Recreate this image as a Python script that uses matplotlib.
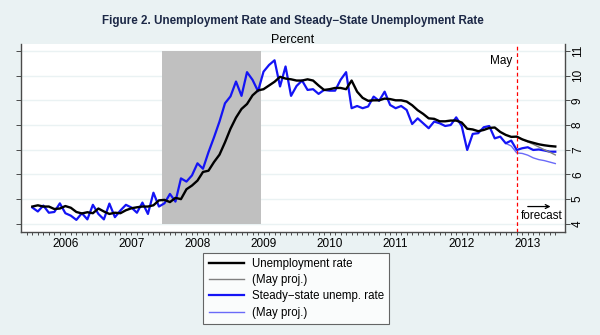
import numpy as np
import matplotlib
matplotlib.use("Agg")
import matplotlib.pyplot as plt
from matplotlib.ticker import FixedLocator, NullFormatter

plt.rcParams['font.family'] = ['Liberation Sans', 'DejaVu Sans']

# ---------------- data (monthly, Jan 2006 - Dec 2013) ----------------
start_year = 2006
unemployment = [
    4.70, 4.75, 4.70, 4.70, 4.60, 4.62, 4.72, 4.65, 4.48, 4.42, 4.47, 4.43,   # 2006
    4.62, 4.50, 4.40, 4.45, 4.43, 4.55, 4.63, 4.67, 4.70, 4.70, 4.75, 4.95,   # 2007
    4.97, 4.88, 5.05, 5.00, 5.40, 5.55, 5.75, 6.10, 6.15, 6.50, 6.80, 7.30,   # 2008
    7.85, 8.30, 8.65, 8.85, 9.20, 9.40, 9.45, 9.60, 9.75, 9.95, 9.88, 9.85,   # 2009
    9.80, 9.80, 9.85, 9.80, 9.60, 9.42, 9.45, 9.50, 9.50, 9.45, 9.80, 9.35,   # 2010
    9.10, 8.98, 9.00, 9.00, 9.07, 9.05, 9.00, 9.00, 8.95, 8.80, 8.60, 8.45,   # 2011
    8.27, 8.25, 8.15, 8.15, 8.18, 8.18, 8.10, 7.85, 7.82, 7.75, 7.80, 7.88,   # 2012
    7.90, 7.72, 7.60, 7.52, 7.53, 7.42, 7.34, 7.28, 7.22, 7.18, 7.15, 7.13,   # 2013
]
steady_state = [
    4.66, 4.50, 4.74, 4.45, 4.48, 4.83, 4.43, 4.33, 4.16, 4.43, 4.18, 4.77,   # 2006
    4.40, 4.18, 4.82, 4.27, 4.54, 4.77, 4.66, 4.45, 4.86, 4.40, 5.26, 4.70,   # 2007
    4.83, 5.21, 4.90, 5.84, 5.71, 5.96, 6.45, 6.23, 6.90, 7.50, 8.14, 8.88,   # 2008
    9.16, 9.76, 9.18, 10.14, 9.83, 9.37, 10.16, 10.43, 10.62, 9.56, 10.37, 9.18,  # 2009
    9.58, 9.80, 9.42, 9.45, 9.26, 9.42, 9.39, 9.39, 9.83, 10.14, 8.68, 8.77,  # 2010
    8.68, 8.75, 9.15, 8.98, 9.35, 8.81, 8.68, 8.77, 8.61, 8.04, 8.27, 8.07,   # 2011
    7.87, 8.14, 8.07, 7.96, 8.00, 8.31, 7.96, 6.99, 7.64, 7.67, 7.91, 7.96,   # 2012
    7.46, 7.53, 7.26, 7.37, 6.99, 7.06, 7.10, 6.99, 7.01, 6.97, 6.92, 6.92,   # 2013
]
# May projections
unemp_may_start = (2013, 5)
unemp_may_proj = [7.53, 7.42, 7.32, 7.22, 7.11, 7.00, 6.90, 6.79]
ss_may_start = (2013, 3)
ss_may_proj = [7.26, 7.15, 6.87, 6.85, 6.78, 6.67, 6.60, 6.56, 6.50, 6.44]

recession = ((2007, 12), (2009, 6))
forecast_month = (2013, 5)
year_labels = [2006, 2007, 2008, 2009, 2010, 2011, 2012, 2013]
y_ticks = [4, 5, 6, 7, 8, 9, 10, 11]

title = "Figure 2. Unemployment Rate and Steady\u2212State Unemployment Rate"
subtitle = "Percent"
legend_labels = ["Unemployment rate", "(May proj.)",
                 "Steady\u2212state unemp. rate", "(May proj.)"]


def ym(y, m):
    return y + (m - 1) / 12.0


t_all = np.array([ym(start_year, 1) + k / 12.0 for k in range(len(unemployment))])
t_up = np.array([ym(*unemp_may_start) + k / 12.0 for k in range(len(unemp_may_proj))])
t_sp = np.array([ym(*ss_may_start) + k / 12.0 for k in range(len(ss_may_proj))])

BG = '#EAF2F3'
fig = plt.figure(figsize=(6, 3.35), dpi=100, facecolor=BG)
ax = fig.add_axes([0.0345, 0.3075, 0.9072, 0.5612])
ax.set_facecolor('white')

xmin, xmax = 2005.824, 2014.064
ax.set_xlim(xmin, xmax)
ax.set_ylim(3.67, 11.28)

# grid
for yv in y_ticks:
    ax.axhline(yv, color=BG, lw=1.0, zorder=0)

# recession shading
r0 = ym(*recession[0]) + 0.5 / 12
r1 = ym(*recession[1]) + 0.5 / 12
ax.fill_between([r0, r1], 4, 11, color='#C0C0C0', lw=0, zorder=1)

# lines
l1, = ax.plot(t_all, unemployment, color='black', lw=1.7, zorder=5)
l2, = ax.plot(t_up, unemp_may_proj, color='#808080', lw=1.0, zorder=4)
l3, = ax.plot(t_all, steady_state, color='#1414F5', lw=1.6, zorder=3)
l4, = ax.plot(t_sp, ss_may_proj, color='#6A6AF8', lw=1.0, zorder=2)

# forecast line
fx = ym(*forecast_month) + 0.01
ax.axvline(fx, color='#FF0000', lw=0.9, ls=(0, (3, 2.2)), zorder=6)
ax.annotate("May", xy=(fx, 10.61), xytext=(-4, 0), textcoords='offset points',
            ha='right', va='center', fontsize=8.5)
ax.text(2013.716, 4.33, "forecast", ha='center', va='center', fontsize=8.5)
ax.annotate("", xy=(2013.845, 4.70), xytext=(2013.50, 4.70),
            arrowprops=dict(arrowstyle='->', color='black', lw=0.9,
                            mutation_scale=7, shrinkA=0, shrinkB=0))

# axes styling
for s in ['left', 'right', 'bottom']:
    ax.spines[s].set_color('#4a4a4a')
    ax.spines[s].set_linewidth(1.0)
ax.spines['top'].set_visible(False)

ax.xaxis.set_major_locator(FixedLocator([y + 0.5 for y in year_labels]))
ax.set_xticklabels([str(y) for y in year_labels])
ax.xaxis.set_minor_locator(FixedLocator([ym(2005, 12) + k / 12.0 for k in range(97)]))
ax.xaxis.set_minor_formatter(NullFormatter())
ax.tick_params(axis='x', which='both', direction='out', length=2.5, width=0.7,
               color='#4a4a4a', labelsize=8.5, pad=2)

ax.set_yticks(y_ticks)
ax.set_yticklabels([str(v) for v in y_ticks])
ax.tick_params(axis='y', left=True, right=True, labelleft=False, labelright=True,
               direction='out', length=3.5, width=0.7, color='#4a4a4a',
               labelsize=8.5, pad=1.5)
for lab in ax.get_yticklabels(which='both'):
    lab.set_rotation(90)
    lab.set_va('center')
    lab.set_ha('left')

# titles
fig.text(0.4875, 0.937, title, ha='center', va='center', fontsize=8.4,
         fontweight='bold', color='#1c2846')
fig.text(0.4875, 0.882, subtitle, ha='center', va='center', fontsize=9)

leg = fig.legend([l1, l2, l3, l4], legend_labels, loc='upper left',
                 bbox_to_anchor=(0.339, 0.2448), bbox_transform=fig.transFigure,
                 fontsize=8.3, handlelength=3.1, handletextpad=0.65,
                 borderpad=0.45, labelspacing=0.36, borderaxespad=0,
                 frameon=True, fancybox=False)
leg.get_frame().set_edgecolor('#404040')
leg.get_frame().set_linewidth(0.8)
leg.get_frame().set_facecolor('white')

fig.savefig('out.png', dpi=100, facecolor=BG)
